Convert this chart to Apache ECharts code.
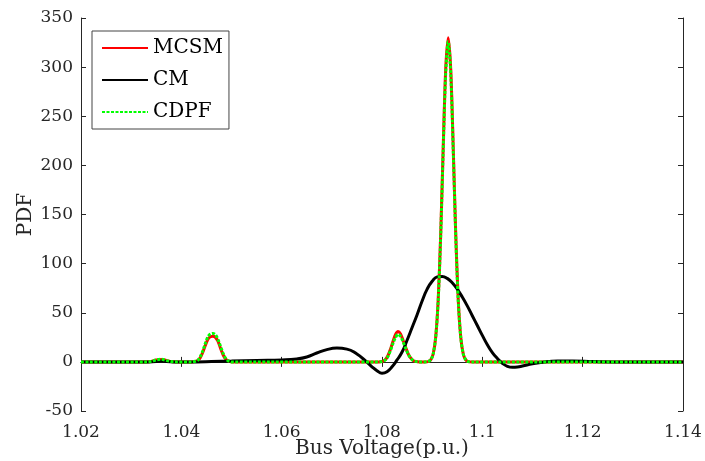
<!DOCTYPE html>
<html>
<head>
<meta charset="utf-8">
<script src="https://cdn.jsdelivr.net/npm/echarts@6/dist/echarts.min.js"></script>
<style>
html,body{margin:0;padding:0;background:#fff;}
#chart{width:705px;height:461px;}
</style>
</head>
<body>
<div id="chart"></div>
<script>
// Shared x positions for MCSM / CDPF
const xPeak = [1.020,1.033,1.034,1.035,1.036,1.037,1.038,1.039,1.042,
  1.0428,1.0433,1.0438,1.0443,1.0448,1.0453,1.0458,1.0463,1.0468,1.0473,1.0478,1.0483,1.0488,1.0493,1.0498,1.050,
  1.079,1.0797,1.0802,1.0807,1.0812,1.0817,1.0822,1.0827,1.0832,1.0837,1.0842,1.0847,1.0852,1.0857,1.0862,1.0867,1.0875,
  1.0885,1.0892,1.0897,1.0902,1.0907,1.0912,1.0917,1.0922,1.0927,1.0932,1.0937,1.0942,1.0947,1.0952,1.0957,1.0962,1.0967,1.0972,1.098,
  1.140];
const yMCSM = [0,0,0.5,2,2.5,1.5,0.3,0,0,
  0.5,1.5,4.5,10,17,23,25.5,26,25,21,14,7.5,3,1,0.3,0,
  0,0.2,0.8,2.5,6.5,13,21,28,31,28.5,22,15,8.5,4,1.5,0.5,0,
  0,0.3,2,8,25,63,130,218,298,330,298,218,130,63,25,8,2,0.3,0,
  0];
const yCDPF = [0,0,0.5,2,2.6,1.5,0.3,0,0,
  0.6,1.8,5.5,11.5,19,25.5,28.3,29,27.5,23,16,9,3.8,1.2,0.3,0,
  0,0.2,0.7,2.2,5.8,11.7,19,25,28,26,20.5,14,8,4,1.5,0.5,0,
  0,0.3,2,8,25,62,128,215,294,326,294,215,128,62,25,8,2,0.3,0,
  0];
const xCM = [1.020,1.030,1.033,1.035,1.036,1.037,1.039,1.043,1.046,1.050,1.055,1.060,1.063,1.065,1.067,1.069,1.071,1.073,1.075,1.0765,1.078,1.079,1.080,1.081,1.082,1.083,1.084,1.085,1.086,1.087,1.088,1.089,1.090,1.091,1.092,1.093,1.094,1.095,1.096,1.097,1.098,1.099,1.100,1.101,1.102,1.103,1.104,1.105,1.106,1.107,1.108,1.110,1.112,1.115,1.118,1.122,1.126,1.140];
const yCM = [0,0,0,0.5,0.8,0.5,0,0,0.3,0.8,1.5,2,3,5,9,12.5,14,13,8,2,-5,-9,-11.5,-10,-5,2,10,22,35,48,62,74,82,86.5,87,85,80.5,74,66,57,47,37,27,17.5,9.5,3.5,-1.5,-4.5,-5.5,-5.2,-4.2,-2,-0.3,0.8,0.8,0.3,0,0];
const xTicks = [1.02,1.04,1.06,1.08,1.1,1.12,1.14];
const yTicks = [-50,0,50,100,150,200,250,300,350];

const zip = (xs, ys) => xs.map((x, i) => [x, ys[i]]);
const FONT = 'DejaVu Serif';
const txt = '#262626';

const chart = echarts.init(document.getElementById('chart'), null, {renderer: 'canvas'});
const axisLine = {show: true, lineStyle: {color: '#262626', width: 1}};
const tick = {inside: true, length: 5, lineStyle: {color: '#262626'}};
chart.setOption({
  animation: false,
  backgroundColor: '#fff',
  grid: {left: 81, right: 22, top: 18, bottom: 50, containLabel: false, outerBoundsMode: 'none'},
  legend: {
    orient: 'vertical', left: 92, top: 31,
    backgroundColor: '#fff', borderColor: '#444', borderWidth: 1,
    padding: [7, 6, 7, 9], itemGap: 12, itemWidth: 46, itemHeight: 14,
    itemStyle: {opacity: 0},
    textStyle: {fontFamily: FONT, fontSize: 20, color: '#000'},
    data: ['MCSM', 'CM', 'CDPF']
  },
  xAxis: [{
    type: 'value', min: xTicks[0], max: xTicks[xTicks.length-1], interval: 0.02,
    position: 'bottom',
    name: 'Bus Voltage(p.u.)', nameLocation: 'middle', nameGap: 28, nameMoveOverlap: false,
    nameTextStyle: {fontFamily: FONT, fontSize: 20, color: txt},
    axisLine: axisLine, axisTick: tick,
    axisLabel: {margin: 13, fontFamily: FONT, fontSize: 17, color: txt,
      formatter: v => String(parseFloat(v.toFixed(2)))},
    splitLine: {show: false}
  }, {
    type: 'value', min: xTicks[0], max: xTicks[xTicks.length-1], interval: 0.02,
    position: 'top',
    axisLine: axisLine, axisTick: tick,
    axisLabel: {show: false}, splitLine: {show: false}
  }],
  yAxis: [{
    type: 'value', min: yTicks[0], max: yTicks[yTicks.length-1], interval: 50,
    position: 'left',
    name: 'PDF', nameLocation: 'middle', nameGap: 45, nameMoveOverlap: false,
    nameTextStyle: {fontFamily: FONT, fontSize: 20, color: txt},
    axisLine: axisLine, axisTick: tick,
    axisLabel: {margin: 8, fontFamily: FONT, fontSize: 17, color: txt},
    splitLine: {show: false}
  }, {
    type: 'value', min: yTicks[0], max: yTicks[yTicks.length-1], interval: 50,
    position: 'right',
    axisLine: axisLine, axisTick: tick,
    axisLabel: {show: false}, splitLine: {show: false}
  }],
  series: [{
    name: 'MCSM', type: 'line', data: zip(xPeak, yMCSM), symbol: 'none',
    smooth: 0.3,
    lineStyle: {color: '#ff0000', width: 3}, itemStyle: {color: '#ff0000'}, z: 2
  }, {
    name: 'CM', type: 'line', data: zip(xCM, yCM), symbol: 'none',
    smooth: 0.5,
    lineStyle: {color: '#000000', width: 3}, itemStyle: {color: '#000000'}, z: 3
  }, {
    name: 'CDPF', type: 'line', data: zip(xPeak, yCDPF), symbol: 'none',
    smooth: 0.3,
    lineStyle: {color: '#00ff00', width: 3, type: [3, 1.5]}, itemStyle: {color: '#00ff00'}, z: 4
  }]
});
</script>
</body>
</html>
